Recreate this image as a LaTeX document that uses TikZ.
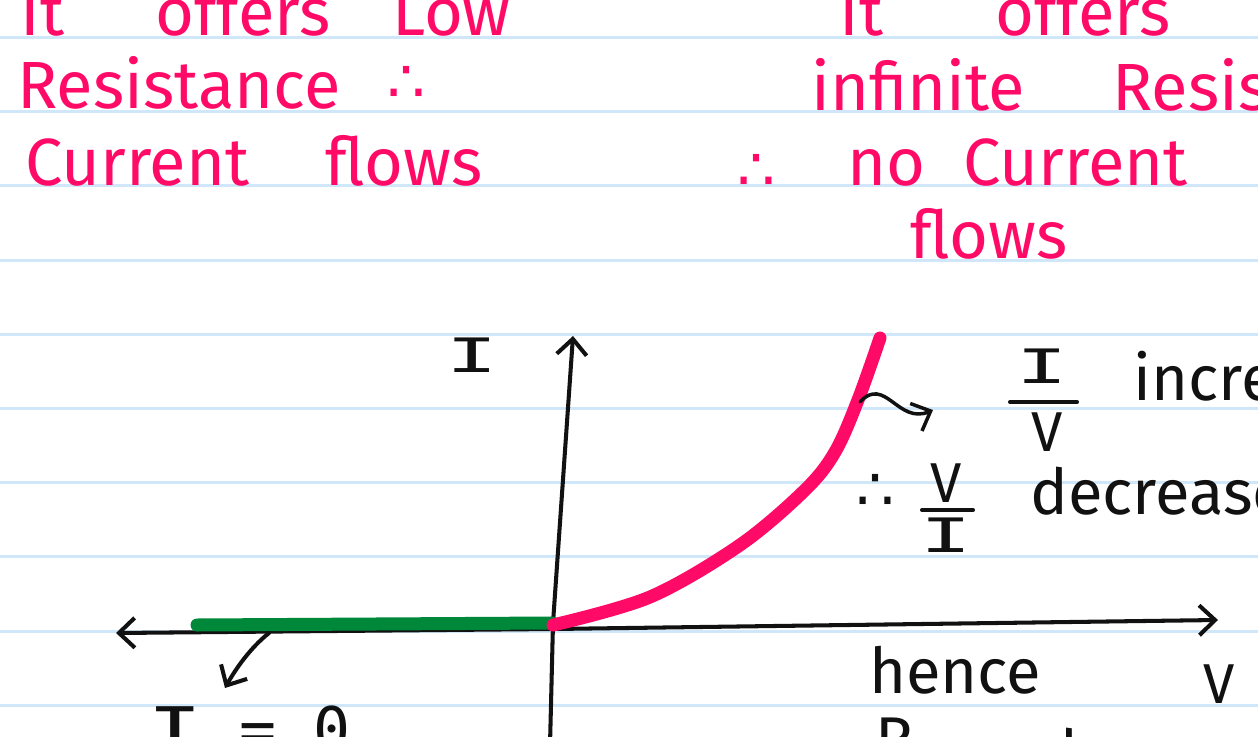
\documentclass[tikz,border=0pt]{standalone}
\usepackage{graphicx}
\usepackage{fontspec}
\setmainfont{Fira Sans}
\newfontfamily\serifado{DejaVu Sans Mono}
\newfontfamily\simbolos{DejaVu Sans}
\usetikzlibrary{arrows.meta, positioning}

\definecolor{tinta}{HTML}{FF0A66}
\definecolor{verde}{HTML}{00883A}
\definecolor{pauta}{HTML}{CFE7F8}
\definecolor{preto}{HTML}{111111}

\newcommand{\letI}{\scalebox{1.8}[1]{I}}

\tikzset{
  rosa/.style={text=tinta, font=\fontsize{38}{46}\selectfont, anchor=base west, inner sep=0pt},
  preta/.style={text=preto, font=\fontsize{36}{43}\selectfont, anchor=base west, inner sep=0pt},
  letraI/.style={text=preto, font=\serifado\fontsize{27}{32}\selectfont, inner sep=0pt},
  letraV/.style={text=preto, font=\fontsize{32}{38}\selectfont, inner sep=0pt},
  portanto/.style={font=\simbolos\fontsize{34}{40}\selectfont, inner sep=0pt},
  eixo/.style={draw=preto, line width=2.3pt, line cap=round, line join=round},
  ponta/.style={-{Straight Barb[length=9pt,width=17pt]}},
  barra/.style={draw=preto, line width=2.3pt, line cap=round},
}

\begin{document}
\begin{tikzpicture}[x=0.02cm, y=-0.02cm]
% --- PAPEL PAUTADO ---
\useasboundingbox (0,0) rectangle (1258,737);
\clip (0,0) rectangle (1258,737);
\fill[white] (0,0) rectangle (1258,737);
\foreach \k in {0,...,9}
  \draw[pauta, line width=1.7pt] (0,{37.5+74.2*\k}) -- (1258,{37.5+74.2*\k});

% --- NOTA ROSA: ESQUERDA ---
\node[rosa] (it1) at (20,35) {It};
\node[rosa] (offers1) at (155,35) {offers};
\node[rosa] (low) at (392,35) {Low};
\node[rosa] (resist1) at (17,108) {Resistance};
\node[portanto, text=tinta] (logo1) at (406,84) {∴};
\node[rosa] (current1) at (25,185) {Current};
\node[rosa] (flows1) at (325,185) {flows};

% --- NOTA ROSA: DIREITA ---
\node[rosa] (it2) at (839,35) {It};
\node[rosa] (offers2) at (995,35) {offers};
\node[rosa] (infinite) at (811,110) {infinite};
\node[rosa] (resist2) at (1112,110) {Resistance};
\node[portanto, text=tinta] (logo2) at (756,172) {∴};
\node[rosa] (no) at (847,185) {no};
\node[rosa] (current2) at (963,185) {Current};
\node[rosa] (flows2) at (910,258) {flows};

% --- EIXOS ---
\coordinate (origem) at (553,623);
\coordinate (cruza) at (553,629);
\coordinate (ytopo) at (573,336);
\coordinate (ybase) at (550,745);
\coordinate (xesq) at (116,633);
\coordinate (xdir) at (1218,620);
\draw[eixo, ponta] (ybase) -- (origem) -- (ytopo);
\draw[eixo, {Straight Barb[length=9pt,width=17pt]}-{Straight Barb[length=9pt,width=17pt]}] (xesq) -- (cruza) -- (xdir);
\node[letraI] (eixoI) at (472,355) {\letI};
\node[letraV] (eixoV) at (1219,684) {V};

% --- CURVAS ---
\draw[verde, line width=7.4pt, line cap=round] (197,625) -- (origem);
\draw[tinta, line width=7.4pt, line cap=round] plot[smooth, tension=0.55]
  coordinates {(553,625) (650,597) (740,545) (805,490) (835,452) (858,400) (880,338)};

% --- SETAS E ANOTACOES ---
\coordinate (pontocurva) at (860,402);
\coordinate (pontaiv) at (933,410);
\draw[eixo, ponta, line width=2pt] (pontocurva) .. controls (885,375) and (898,425) .. (pontaiv);
\node[letraI] (fracI1) at (1042,366) {\letI};
\draw[barra] (1010,402) -- (1077,402);
\node[letraV] (fracV1) at (1047,432) {V};
\node[preta] (incr) at (1133,400) {increases};

\node[portanto, text=preto] (logo3) at (875,492) {∴};
\node[letraV] (fracV2) at (946,483) {V};
\draw[barra] (922,510) -- (973,510);
\node[letraI] (fracI2) at (946,535) {\letI};
\node[preta] (decr) at (1030,514) {decreases};

\coordinate (pontoverde) at (269,633);
\coordinate (pontaizero) at (225,688);
\draw[eixo, ponta] (pontoverde) .. controls (250,648) and (235,670) .. (pontaizero);
\node[text=preto, font=\serifado\fontsize{35}{42}\selectfont, anchor=base west, inner sep=0pt] (izero) at (147,751) {\scalebox{1.5}[1]{I} = 0};

\node[preta] (hence) at (869,693) {hence};
\node[preta] (rbaixo) at (875,761) {R};
\node[preta] (decr2) at (1040,775) {decreases};
\end{tikzpicture}
\end{document}
